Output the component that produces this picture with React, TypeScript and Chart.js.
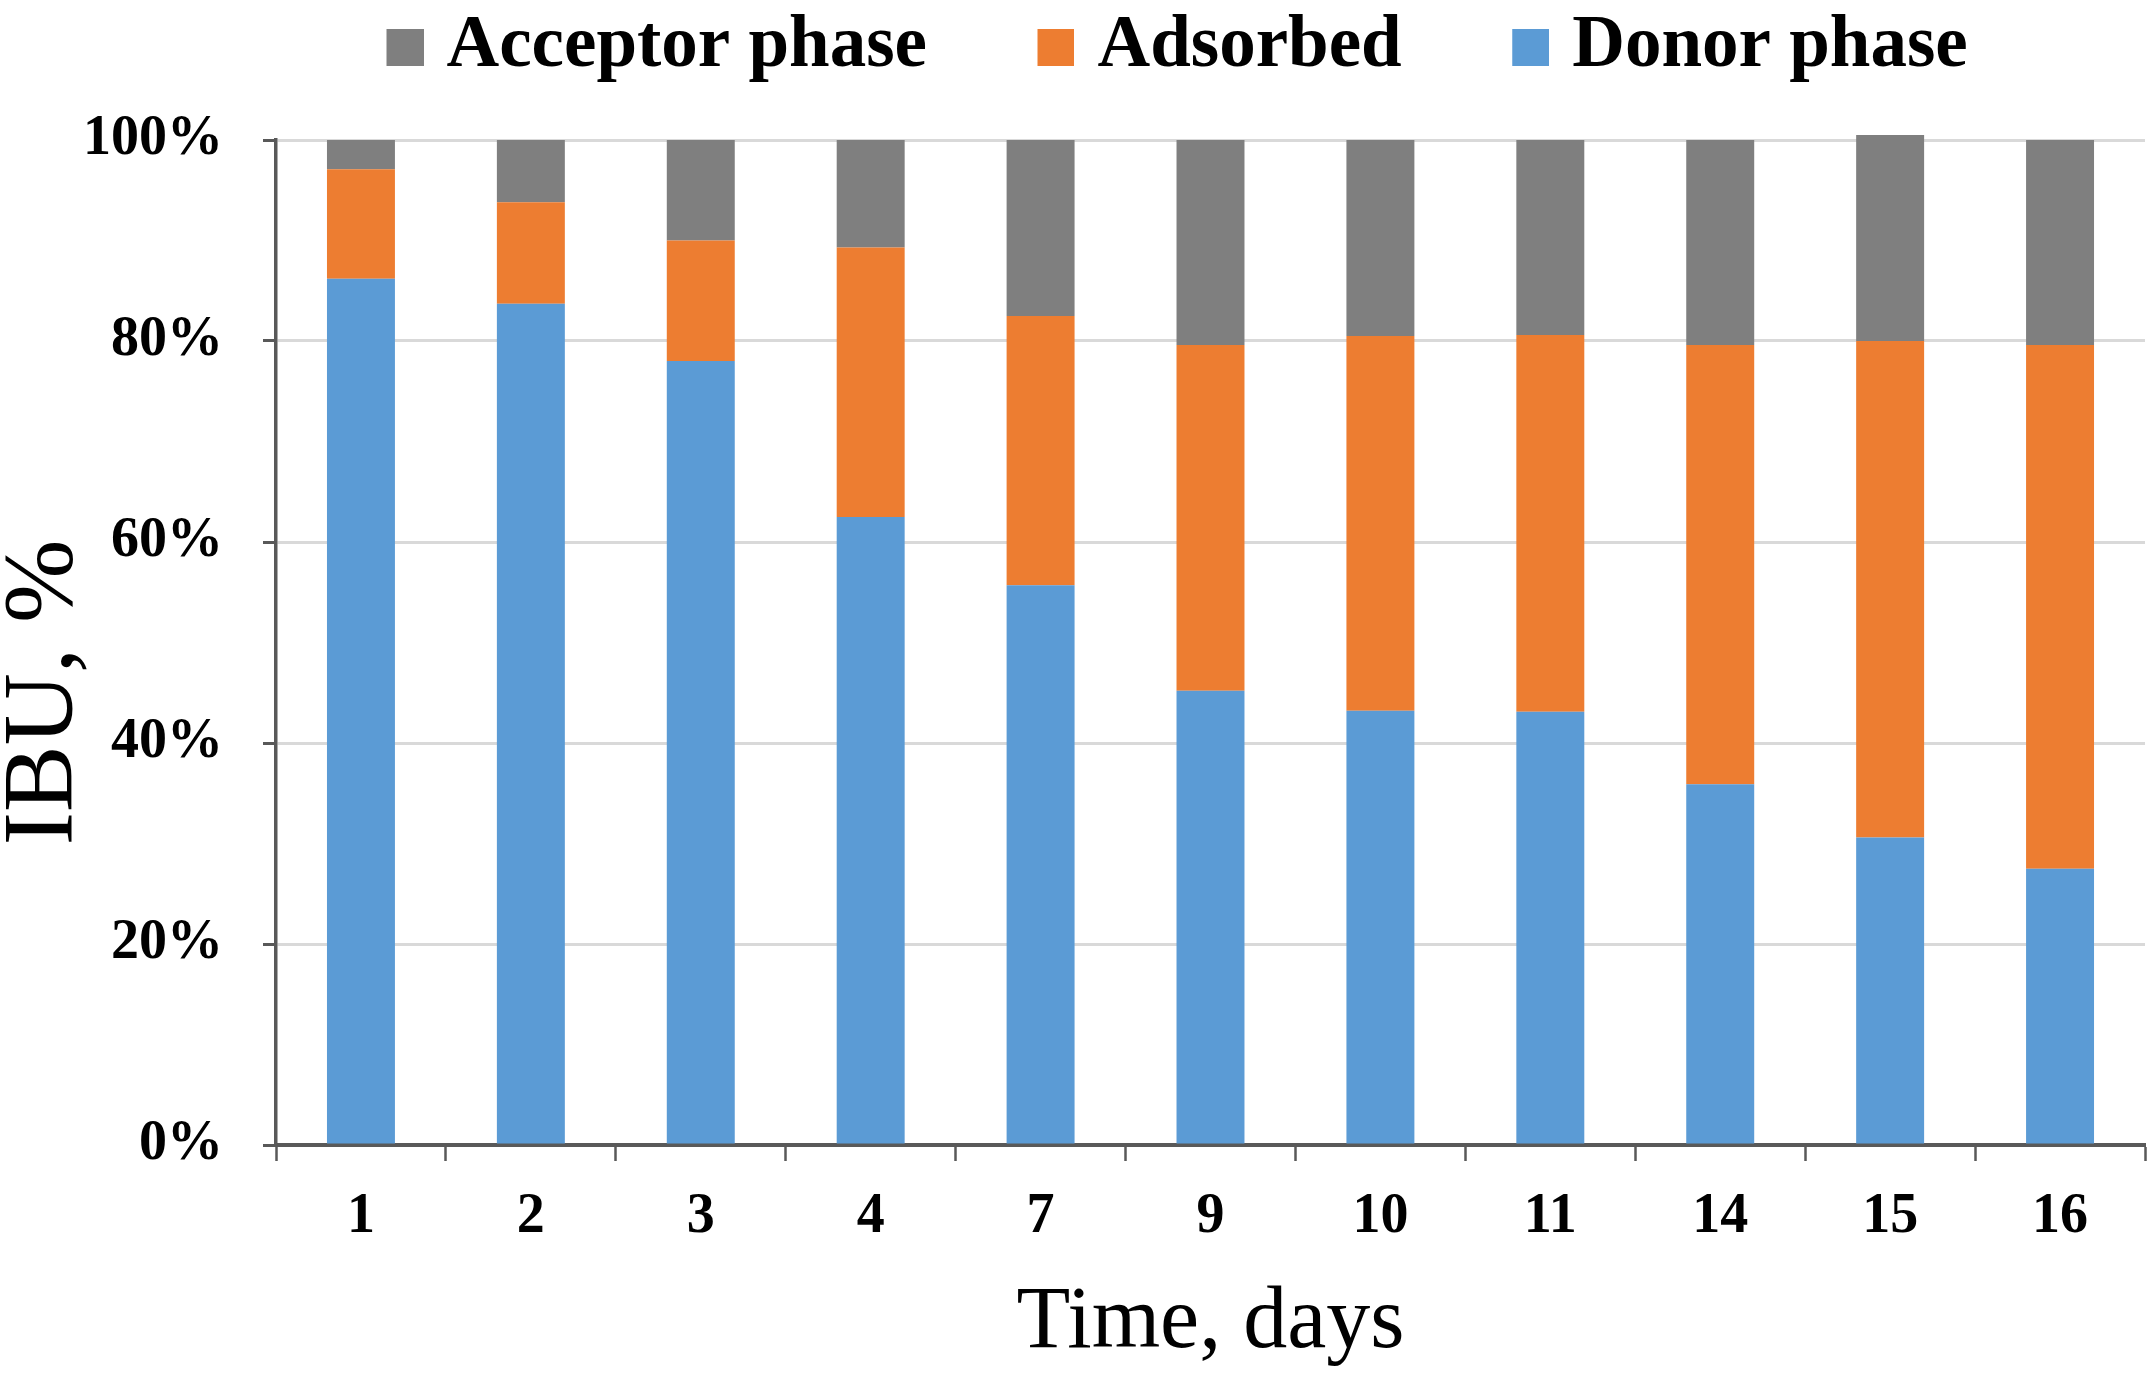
import React, { useEffect, useRef } from "react";
import { Chart, registerables } from "chart.js";

Chart.register(...registerables);

const categories = ["1", "2", "3", "4", "7", "9", "10", "11", "14", "15", "16"];
const donorPhase = [86.2, 83.7, 78.0, 62.5, 55.7, 45.2, 43.2, 43.1, 35.9, 30.6, 27.5];
const adsorbed = [10.9, 10.1, 12.0, 26.8, 26.8, 34.4, 37.3, 37.5, 43.7, 49.4, 52.1];
const acceptorPhase = [2.9, 6.2, 10.0, 10.7, 17.5, 20.4, 19.5, 19.4, 20.4, 20.5, 20.4];
const yTicks = [0, 20, 40, 60, 80, 100];

const SERIF = "'Liberation Serif', 'Times New Roman', serif";
const AXIS = "#595959";

function makeSwatch(color: string): HTMLCanvasElement {
  // 37x37 square placed at the right of a 51px-wide transparent image
  const c = document.createElement("canvas");
  c.width = 51;
  c.height = 37;
  const ctx = c.getContext("2d")!;
  ctx.fillStyle = color;
  ctx.fillRect(14, 0, 37, 37);
  return c;
}

export default function App() {
  const ref = useRef<HTMLCanvasElement | null>(null);

  useEffect(() => {
    if (!ref.current) return;
    const swatches: Record<string, HTMLCanvasElement> = {};
    const chart = new Chart(ref.current, {
      type: "bar",
      data: {
        labels: categories,
        datasets: [
          { label: "Donor phase", data: donorPhase, backgroundColor: "#5b9bd5" },
          { label: "Adsorbed", data: adsorbed, backgroundColor: "#ed7d31" },
          { label: "Acceptor phase", data: acceptorPhase, backgroundColor: "#7f7f7f", clip: false as any },
        ],
      },
      options: {
        animation: false,
        responsive: true,
        maintainAspectRatio: false,
        devicePixelRatio: 1,
        layout: { padding: { top: -99.5, right: 11, left: 0, bottom: 0 } },
        datasets: { bar: { categoryPercentage: 1, barPercentage: 0.4 } },
        plugins: {
          tooltip: { enabled: false },
          legend: {
            position: "top",
            align: "start",
            reverse: true,
            fullSize: false,
            weight: 1000,
            labels: {
              usePointStyle: true,
              boxWidth: 24,
              boxHeight: 37,
              padding: 110,
              color: "#000",
              font: { family: SERIF, size: 73, weight: "bold" },
              generateLabels: (c: any) => {
                const items = (Chart.defaults.plugins.legend.labels as any).generateLabels(c);
                return items.map((it: any) => {
                  const key = String(it.fillStyle);
                  if (!swatches[key]) swatches[key] = makeSwatch(key);
                  return { ...it, pointStyle: swatches[key], lineWidth: 0 };
                });
              },
            },
          },
          title: {
            display: true,
            text: "",
            weight: 100,
            padding: 0,
            font: { size: 46.5, lineHeight: 1 },
          },
        },
        scales: {
          x: {
            stacked: true,
            afterFit: (s: any) => {
              s.height = 243;
            },
            grid: {
              display: true,
              offset: true,
              drawOnChartArea: false,
              drawTicks: true,
              tickLength: 16,
              tickColor: AXIS,
              tickWidth: 2.5,
            },
            border: { display: true, color: AXIS, width: 4 },
            ticks: {
              color: "#000",
              padding: 23,
              font: { family: SERIF, size: 56, weight: "bold" },
            },
            title: {
              display: true,
              text: "Time, days",
              color: "#000",
              padding: { top: 0, bottom: 11 },
              font: { family: SERIF, size: 88, weight: "normal" },
            },
          },
          y: {
            stacked: true,
            min: 0,
            max: 100,
            afterFit: (s: any) => {
              s.width = 276;
            },
            afterBuildTicks: (s: any) => {
              s.ticks = yTicks.map((v) => ({ value: v }));
            },
            grid: {
              color: "#d9d9d9",
              lineWidth: 3,
              drawTicks: true,
              tickLength: 13,
              tickColor: AXIS,
              tickWidth: 3,
            },
            border: { display: true, color: AXIS, width: 3.5 },
            ticks: {
              color: "#000",
              padding: 40,
              font: { family: SERIF, size: 56, weight: "bold" },
              callback: (v: any) => v + "%",
            },
            title: {
              display: true,
              text: "IBU, %\u2003",
              color: "#000",
              padding: 0,
              font: { family: SERIF, size: 100, weight: "normal", lineHeight: 0.9 },
            },
          },
        },
      },
    });
    return () => chart.destroy();
  }, []);

  return (
    <div style={{ position: "fixed", left: 0, top: 0, width: 2156, height: 1388, background: "#fff" }}>
      <canvas ref={ref} />
    </div>
  );
}
